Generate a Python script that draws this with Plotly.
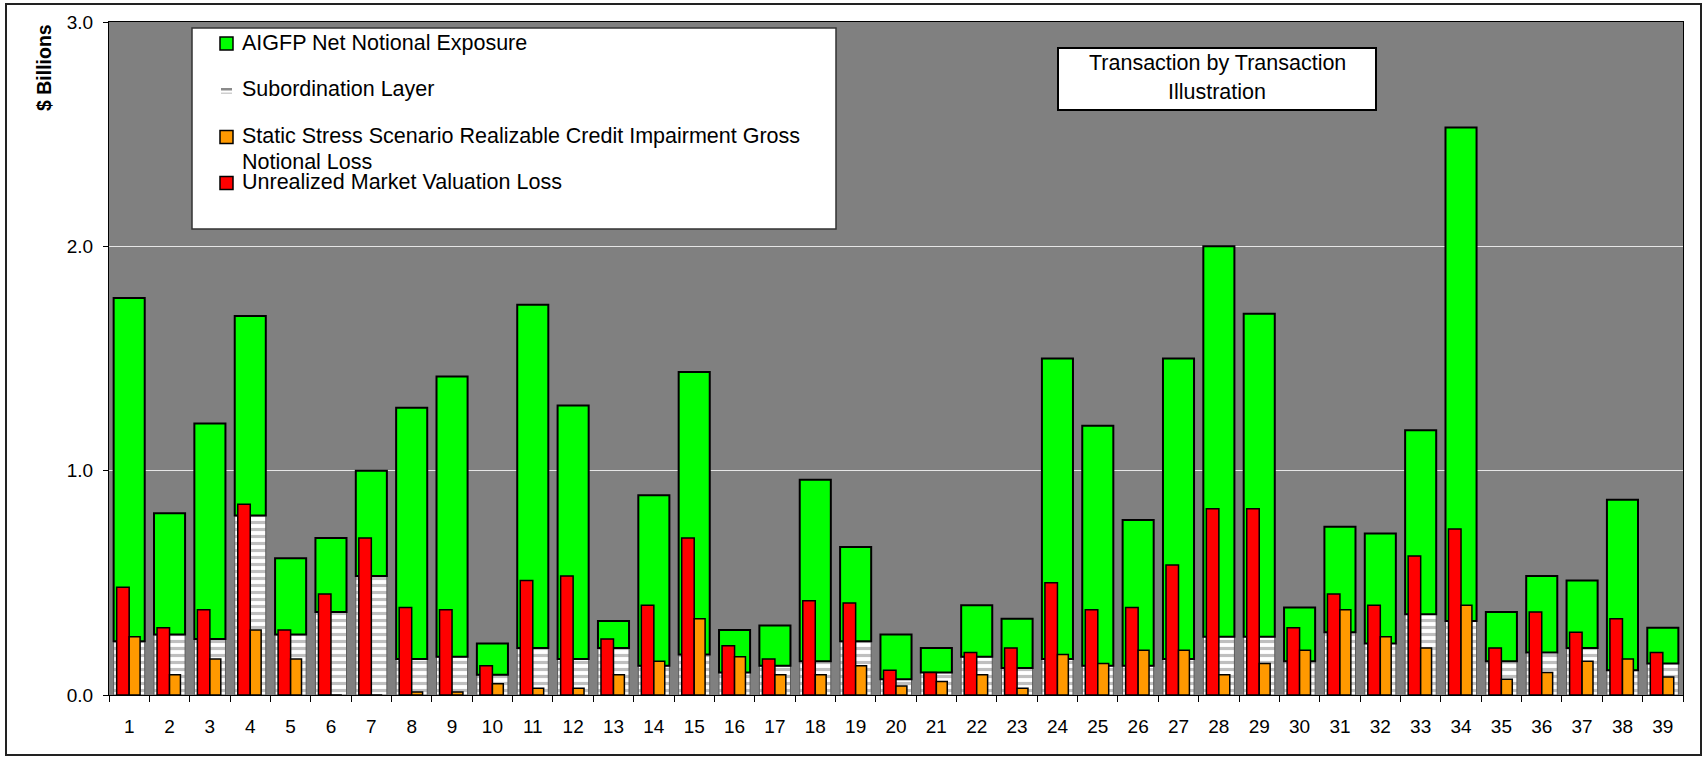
import plotly.graph_objects as go

# transaction numbers on the x axis
transactions = [str(i) for i in range(1, 40)]

# top of the green bar ($ billions)
net_exposure = [1.77, 0.81, 1.21, 1.69, 0.61, 0.70, 1.00, 1.28, 1.42, 0.23,
                1.74, 1.29, 0.33, 0.89, 1.44, 0.29, 0.31, 0.96, 0.66, 0.27,
                0.21, 0.40, 0.34, 1.50, 1.20, 0.78, 1.50, 2.00, 1.70, 0.39,
                0.75, 0.72, 1.18, 2.53, 0.37, 0.53, 0.51, 0.87, 0.30]
subordination = [0.24, 0.27, 0.25, 0.80, 0.27, 0.37, 0.53, 0.16, 0.17, 0.09,
                 0.21, 0.16, 0.21, 0.13, 0.18, 0.10, 0.13, 0.15, 0.24, 0.07,
                 0.10, 0.17, 0.12, 0.16, 0.13, 0.13, 0.16, 0.26, 0.26, 0.15,
                 0.28, 0.23, 0.36, 0.33, 0.15, 0.19, 0.21, 0.11, 0.14]
unrealized_loss = [0.48, 0.30, 0.38, 0.85, 0.29, 0.45, 0.70, 0.39, 0.38, 0.13,
                   0.51, 0.53, 0.25, 0.40, 0.70, 0.22, 0.16, 0.42, 0.41, 0.11,
                   0.10, 0.19, 0.21, 0.50, 0.38, 0.39, 0.58, 0.83, 0.83, 0.30,
                   0.45, 0.40, 0.62, 0.74, 0.21, 0.37, 0.28, 0.34, 0.19]
stress_loss = [0.26, 0.09, 0.16, 0.29, 0.16, 0.00, 0.00, 0.013, 0.013, 0.05,
               0.03, 0.03, 0.09, 0.15, 0.34, 0.17, 0.09, 0.09, 0.13, 0.04,
               0.06, 0.09, 0.03, 0.18, 0.14, 0.20, 0.20, 0.09, 0.14, 0.20,
               0.38, 0.26, 0.21, 0.40, 0.07, 0.10, 0.15, 0.16, 0.08]

legend_labels = ["AIGFP Net Notional Exposure", "Subordination Layer",
                 "Static Stress Scenario Realizable Credit Impairment Gross",
                 "Notional Loss", "Unrealized Market Valuation Loss"]
box_lines = ["Transaction by Transaction", "Illustration"]

FONT = "Liberation Sans, Arial, sans-serif"
W, H = 1704, 758
L, R, T, B = 109, 21, 22, 63
PW, PH = W - L - R, H - T - B


def px(x):
    return (x - L) / PW


def py(y):
    return (H - B - y) / PH


green_part = [n - s for n, s in zip(net_exposure, subordination)]

fig = go.Figure()
fig.add_trace(go.Bar(x=transactions, y=subordination, width=0.77,
                     marker=dict(color="white",
                                 line=dict(color="#5a5a5a", width=1),
                                 pattern=dict(shape="-", fgcolor="#7f7f7f", bgcolor="white",
                                              size=7, solidity=0.45)),
                     name=legend_labels[1]))
fig.add_trace(go.Bar(x=transactions, y=green_part, base=subordination, width=0.77,
                     marker=dict(color="#00ff00", line=dict(color="black", width=2)),
                     name=legend_labels[0]))
fig.add_trace(go.Bar(x=transactions, y=unrealized_loss, width=0.31, offset=-0.31,
                     marker=dict(color="#ff0000", line=dict(color="black", width=1.5)),
                     name=legend_labels[4]))
fig.add_trace(go.Bar(x=transactions, y=stress_loss, width=0.27, offset=0,
                     marker=dict(color="#ff9900", line=dict(color="black", width=1.5)),
                     name=legend_labels[2]))

shapes = []
annotations = []

# outer frame
shapes.append(dict(type="rect", xref="paper", yref="paper", x0=px(6), x1=px(1701),
                   y0=py(4), y1=py(755), line=dict(color="#222222", width=2)))

# legend box
shapes.append(dict(type="rect", xref="paper", yref="paper", x0=px(192), x1=px(836),
                   y0=py(28), y1=py(229), fillcolor="white",
                   line=dict(color="#333333", width=1.5)))
for yc, col in [(43.5, "#00ff00"), (137, "#ff9900"), (183, "#ff0000")]:
    shapes.append(dict(type="rect", xref="paper", yref="paper", x0=px(220), x1=px(233),
                       y0=py(yc - 6.5), y1=py(yc + 6.5), fillcolor=col,
                       line=dict(color="black", width=1.5)))
shapes.append(dict(type="rect", xref="paper", yref="paper", x0=px(221), x1=px(232),
                   y0=py(88), y1=py(90.5), fillcolor="#8a8a8a", line=dict(width=0)))
shapes.append(dict(type="rect", xref="paper", yref="paper", x0=px(221), x1=px(232),
                   y0=py(92.5), y1=py(94), fillcolor="#cfcfcf", line=dict(width=0)))
for text, yc in zip(legend_labels, [43, 89, 136, 162, 182]):
    annotations.append(dict(text=text, xref="paper", yref="paper", x=px(239.5), y=py(yc),
                            xanchor="left", yanchor="middle", showarrow=False,
                            font=dict(family=FONT, size=21.5, color="black")))

# "Transaction by Transaction Illustration" box
shapes.append(dict(type="rect", xref="paper", yref="paper", x0=px(1058), x1=px(1376),
                   y0=py(48), y1=py(110), fillcolor="white",
                   line=dict(color="black", width=2)))
for text, yc in zip(box_lines, [63, 92]):
    annotations.append(dict(text=text, xref="paper", yref="paper", x=px(1217), y=py(yc),
                            xanchor="center", yanchor="middle", showarrow=False,
                            font=dict(family=FONT, size=21.5, color="black")))

# y axis title
annotations.append(dict(text="<b>$ Billions</b>", xref="paper", yref="paper",
                        x=px(44), y=py(68), textangle=-90, showarrow=False,
                        xanchor="center", yanchor="middle",
                        font=dict(family=FONT, size=19.5, color="black")))

fig.update_layout(
    width=W, height=H, autosize=False,
    margin=dict(l=L, r=R, t=T, b=B),
    barmode="overlay", showlegend=False,
    paper_bgcolor="white", plot_bgcolor="#808080",
    font=dict(family=FONT, size=19, color="black"),
    shapes=shapes, annotations=annotations,
)
fig.update_xaxes(type="category", tickson="boundaries", ticks="outside", ticklen=6,
                 tickcolor="black", showline=True, linecolor="black", mirror=True,
                 showgrid=False, ticklabelstandoff=14, tickfont=dict(size=19))
fig.update_yaxes(range=[0, 3], dtick=1, tickformat=".1f", ticks="outside", ticklen=5,
                 tickcolor="black", showline=True, linecolor="black", mirror=True,
                 gridcolor="#e6e6e6", gridwidth=1, zeroline=False,
                 ticklabelstandoff=6, tickfont=dict(size=19))

# the page's default body margin would shift the chart by 8px
fig.write_html("out.html", config={"displayModeBar": False},
               post_script="document.body.style.margin='0px';")
